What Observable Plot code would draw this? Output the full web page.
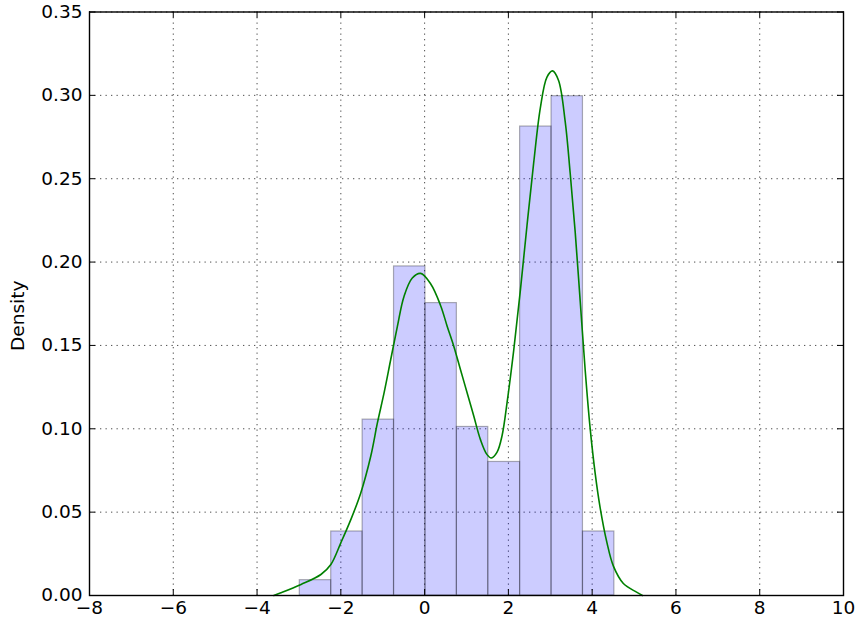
<!DOCTYPE html>
<html>
<head>
<meta charset="utf-8">
<script src="https://cdn.jsdelivr.net/npm/d3@7"></script>
<script src="https://cdn.jsdelivr.net/npm/@observablehq/plot@0.6"></script>
<style>
  html, body { margin: 0; padding: 0; background: #fff; }
  svg { display: block; }
</style>
</head>
<body>
<div id="chart"></div>
<script>
// Histogram bins (edges) and densities
const binEdges = [-2.98, -2.23, -1.48, -0.73, 0.02, 0.77, 1.52, 2.28, 3.03, 3.78, 4.53];
const binDensity = [0.0092, 0.0384, 0.1055, 0.1974, 0.1754, 0.1011, 0.0801, 0.2813, 0.2995, 0.0384];

// KDE curve
const kdeX = [-3.6, -3.43, -2.95, -2.476, -2.238, -2.0, -1.762, -1.524, -1.286, -1.127, -0.968, -0.81, -0.65, -0.492, -0.294, -0.095, 0.143, 0.381, 0.54, 0.698, 0.857, 1.016, 1.175, 1.333, 1.49, 1.595, 1.73, 1.85, 1.97, 2.127, 2.286, 2.445, 2.603, 2.762, 2.921, 3.056, 3.198, 3.357, 3.476, 3.595, 3.714, 3.833, 3.952, 4.071, 4.19, 4.35, 4.507, 4.745, 5.06, 5.2];
const kdeY = [0.0, 0.0016, 0.0066, 0.0126, 0.0186, 0.0316, 0.0455, 0.0615, 0.0835, 0.1035, 0.1215, 0.1414, 0.1614, 0.1794, 0.1904, 0.1932, 0.187, 0.174, 0.1614, 0.1494, 0.1354, 0.1215, 0.1075, 0.0935, 0.0845, 0.0825, 0.086, 0.096, 0.116, 0.147, 0.183, 0.2221, 0.2593, 0.2924, 0.311, 0.3147, 0.3089, 0.2841, 0.2531, 0.218, 0.1767, 0.1353, 0.1002, 0.0734, 0.0527, 0.032, 0.0176, 0.0072, 0.002, 0.0];

// Tick values
const xTicks = [-8, -6, -4, -2, 0, 2, 4, 6, 8, 10];
const yTicks = [0, 0.05, 0.10, 0.15, 0.20, 0.25, 0.30, 0.35];

const bins = binDensity.map((d, i) => ({x1: binEdges[i], x2: binEdges[i + 1], density: d}));
const kde = kdeX.map((x, i) => ({x, y: kdeY[i]}));

const W = 856, H = 623;
const mL = 89, mR = 13, mT = 11.5, mB = 28;
const innerW = W - mL - mR, innerH = H - mT - mB;
const tickLen = 6;
const font = "DejaVu Sans, Liberation Sans, sans-serif";

const chart = Plot.plot({
  width: W,
  height: H,
  marginLeft: mL,
  marginRight: mR,
  marginTop: mT,
  marginBottom: mB,
  style: {fontFamily: font, fontSize: "18px", color: "#000", background: "#fff"},
  x: {domain: [-8, 10]},
  y: {domain: [0, 0.35]},
  marks: [
    Plot.gridX(xTicks, {stroke: "#000", strokeOpacity: 0.7, strokeWidth: 1, strokeDasharray: "1.3,4.2"}),
    Plot.gridY(yTicks, {stroke: "#000", strokeOpacity: 0.7, strokeWidth: 1, strokeDasharray: "1.3,4.2"}),
    Plot.rect(bins, {x1: "x1", x2: "x2", y1: 0, y2: "density", fill: "blue", fillOpacity: 0.2, stroke: "#000", strokeOpacity: 0.3, strokeWidth: 1.2}),
    Plot.line(kde, {x: "x", y: "y", stroke: "#008000", strokeWidth: 1.6, curve: "catmull-rom"}),
    // inward ticks on all four sides
    Plot.ruleX(xTicks, {x: d => d, insetTop: innerH - tickLen, stroke: "#000", strokeWidth: 1}),
    Plot.ruleX(xTicks, {x: d => d, insetBottom: innerH - tickLen, stroke: "#000", strokeWidth: 1}),
    Plot.ruleY(yTicks, {y: d => d, insetRight: innerW - tickLen, stroke: "#000", strokeWidth: 1}),
    Plot.ruleY(yTicks, {y: d => d, insetLeft: innerW - tickLen, stroke: "#000", strokeWidth: 1}),
    Plot.axisX(xTicks, {tickSize: 0, tickPadding: 5, fontSize: 18.5, tickFormat: d3.format("d"), label: null}),
    Plot.axisY(yTicks, {tickSize: 0, tickPadding: 7, fontSize: 18.5, tickFormat: d3.format(".2f"), label: null}),
    Plot.text(["Density"], {frameAnchor: "left", dx: -71, dy: 12, rotate: -90, text: d => d, fontSize: 18.5, textAnchor: "middle"}),
    Plot.frame({stroke: "#000", strokeWidth: 1.4})
  ]
});

document.getElementById("chart").appendChild(chart);
</script>
</body>
</html>
